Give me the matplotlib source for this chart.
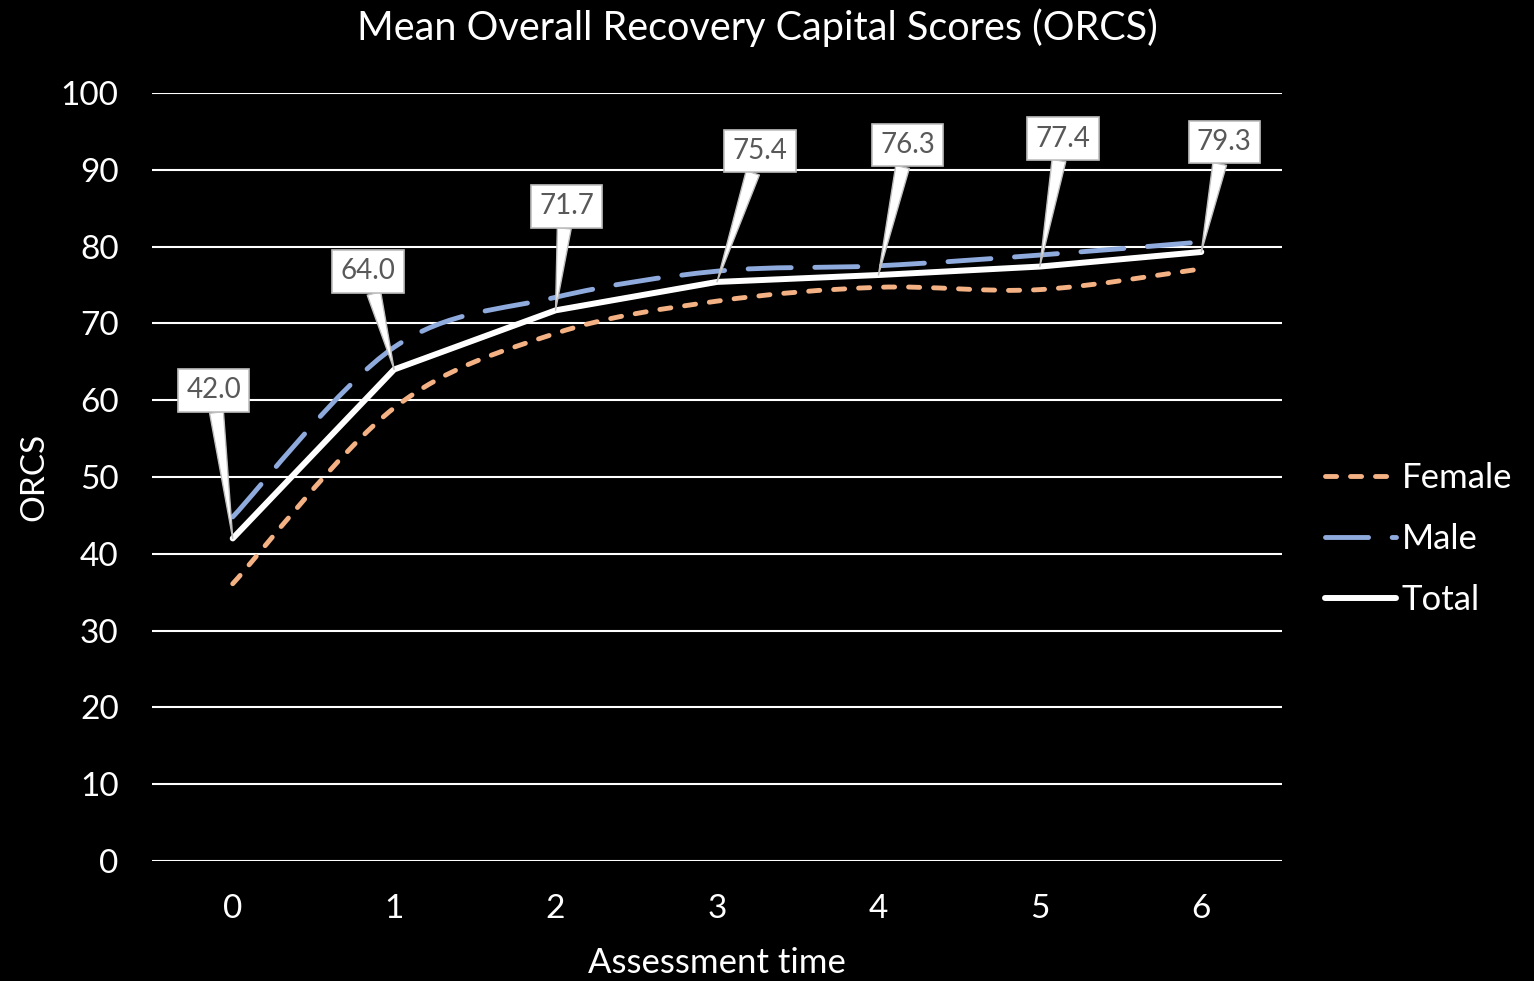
import matplotlib
matplotlib.use("Agg")
import matplotlib.pyplot as plt
from matplotlib.path import Path
from matplotlib.patches import PathPatch
from matplotlib.lines import Line2D
import numpy as np

plt.rcParams['font.family'] = ['Lato', 'DejaVu Sans']
plt.rcParams['lines.scale_dashes'] = False

time_points = [0, 1, 2, 3, 4, 5, 6]
female = [36.1, 59.0, 68.7, 72.9, 74.7, 74.4, 77.1]
male = [44.8, 66.9, 73.4, 76.8, 77.5, 78.9, 80.6]
total = [42.0, 64.0, 71.7, 75.4, 76.3, 77.4, 79.3]
label_offsets = [(-19, 148), (-26, 98), (11, 104), (43, 131), (29, 130), (23, 128), (23, 110)]

FEMALE_C = '#F4B183'
MALE_C = '#8FAADC'
F_DASH = (0, (8, 10))
M_DASH = (0, (31, 17))

fig = plt.figure(figsize=(15.34, 9.81), dpi=100, facecolor='black')
ax = fig.add_axes([152/1534, 1 - 861/981, (1282-152)/1534, (861-93)/981])
ax.set_facecolor('black')
ax.set_xlim(-0.5, 6.5)
ax.set_ylim(0, 100)
ax.set_yticks(range(0, 101, 10))
ax.set_xticks(time_points)
for s in ax.spines.values():
    s.set_visible(False)
ax.grid(axis='y', color='white', linewidth=1.5)
ax.set_axisbelow(True)
ax.tick_params(colors='white', labelsize=24, length=0)
ax.tick_params(axis='y', pad=24)
ax.tick_params(axis='x', pad=24)


def smooth_path(xs, ys):
    pts = np.column_stack([xs, ys]).astype(float)
    n = len(pts)
    verts = [pts[0]]
    codes = [Path.MOVETO]
    for i in range(n - 1):
        p0 = pts[i - 1] if i > 0 else pts[i]
        p1 = pts[i]
        p2 = pts[i + 1]
        p3 = pts[i + 2] if i + 2 < n else pts[i + 1]
        c1 = p1 + (p2 - p0) / 6.0
        c2 = p2 - (p3 - p1) / 6.0
        verts += [c1, c2, p2]
        codes += [Path.CURVE4] * 3
    return Path(verts, codes)


fp = PathPatch(smooth_path(time_points, female), fill=False, edgecolor=FEMALE_C,
               linewidth=3.5, linestyle=F_DASH, capstyle='round', joinstyle='round', zorder=3)
ax.add_patch(fp)
mp = PathPatch(smooth_path(time_points, male), fill=False, edgecolor=MALE_C,
               linewidth=3.5, linestyle=M_DASH, capstyle='round', joinstyle='round', zorder=3)
ax.add_patch(mp)
ax.plot(time_points, total, color='white', linewidth=4.3, solid_joinstyle='round',
        solid_capstyle='round', zorder=4)

for x, y, off in zip(time_points, total, label_offsets):
    ax.annotate(f"{y:.1f}", xy=(x, y), xytext=off, textcoords='offset pixels',
                ha='center', va='center', fontsize=20, color='#595959', zorder=6,
                bbox=dict(boxstyle='square,pad=0.3', fc='white', ec='#BFBFBF', lw=1.2),
                arrowprops=dict(arrowstyle='wedge,tail_width=0.5,shrink_factor=0.5',
                                fc='white', ec='#BFBFBF', lw=1.0,
                                shrinkA=0, shrinkB=0))

ax.set_xlabel('Assessment time', color='white', fontsize=25, labelpad=16)
ax.set_ylabel('ORCS', color='white', fontsize=24, labelpad=8)
fig.text(757/1534, 1 - 28/981, 'Mean Overall Recovery Capital Scores (ORCS)',
         color='white', fontsize=28.5, ha='center', va='center')

handles = [
    Line2D([], [], color=FEMALE_C, lw=3.5, linestyle=F_DASH, dash_capstyle='round'),
    Line2D([], [], color=MALE_C, lw=3.5, linestyle=M_DASH, dash_capstyle='round'),
    Line2D([], [], color='white', lw=4.3, solid_capstyle='round'),
]
leg = fig.legend(handles, ['Female', 'Male', 'Total'], loc='center left',
                 bbox_to_anchor=(1325/1534, 1 - 539/981), frameon=False,
                 fontsize=25, labelcolor='white', handlelength=2.05,
                 handletextpad=0.15, labelspacing=0.84, borderpad=0, borderaxespad=0)

fig.savefig('out.png', dpi=100, facecolor='black')
